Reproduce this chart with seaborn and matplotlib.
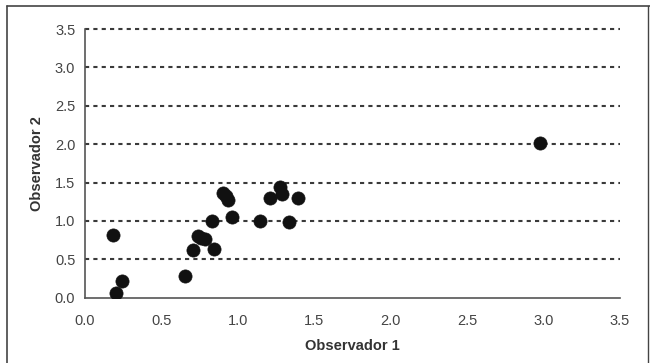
import matplotlib
matplotlib.use("Agg")
import matplotlib.pyplot as plt
import seaborn as sns
import pandas as pd
from matplotlib.lines import Line2D

obs1 = [0.185, 0.20, 0.244, 0.654, 0.704, 0.741, 0.76, 0.784, 0.843, 0.83,
        0.90, 0.92, 0.937, 0.96, 1.148, 1.209, 1.275, 1.286, 1.333, 1.394, 2.974]
obs2 = [0.82, 0.065, 0.22, 0.28, 0.62, 0.80, 0.78, 0.76, 0.63, 1.0,
        1.37, 1.32, 1.27, 1.056, 1.004, 1.296, 1.44, 1.35, 0.98, 1.296, 2.02]
ticks = [0.0, 0.5, 1.0, 1.5, 2.0, 2.5, 3.0, 3.5]
tick_labels = ["0.0", "0.5", "1.0", "1.5", "2.0", "2.5", "3.0", "3.5"]

df = pd.DataFrame({"Observador 1": obs1, "Observador 2": obs2})

sns.set_style("white")
plt.rcParams["font.family"] = ["Liberation Sans", "DejaVu Sans"]

fig = plt.figure(figsize=(6.5, 3.63), dpi=100)
ax = fig.add_axes([85 / 650, 1 - 297.7 / 363, (620 - 85) / 650, (297.7 - 29) / 363])

for t in ticks[1:]:
    ln = ax.axhline(t, color="#3a3a3a", linestyle=(0, (2.0, 2.0)), linewidth=1.5, zorder=1)
    ln.set_clip_on(False)

sns.scatterplot(data=df, x="Observador 1", y="Observador 2", ax=ax,
                color="#111111", s=90, edgecolor="#111111", linewidth=0.5, zorder=3)

ax.set_xlim(0, 3.5)
ax.set_ylim(0, 3.5)
ax.set_xticks(ticks)
ax.set_xticklabels(tick_labels)
ax.set_yticks(ticks)
ax.set_yticklabels(tick_labels)
ax.tick_params(axis="x", direction="out", length=5, width=1, color="#555555",
               labelsize=10.5, labelcolor="#444444", pad=7)
ax.tick_params(axis="y", direction="inout", length=8, width=1, color="#555555",
               labelsize=10.5, labelcolor="#444444", pad=3)
ax.set_xlabel("Observador 1", fontsize=10.5, fontweight="bold", color="#333333", labelpad=8)
ax.set_ylabel("Observador 2", fontsize=10.5, fontweight="bold", color="#333333", labelpad=8)

for s in ["top", "right"]:
    ax.spines[s].set_visible(False)
for s in ["left", "bottom"]:
    ax.spines[s].set_color("#555555")
    ax.spines[s].set_linewidth(1.2)

# outer frame
fig.add_artist(Line2D([7 / 650, 7 / 650], [0, 1 - 6 / 363], transform=fig.transFigure,
                      color="#444444", linewidth=1.2))
fig.add_artist(Line2D([7 / 650, 1], [1 - 6 / 363, 1 - 6 / 363], transform=fig.transFigure,
                      color="#444444", linewidth=1.2))
fig.add_artist(Line2D([648 / 650, 648 / 650], [0, 1 - 6 / 363], transform=fig.transFigure,
                      color="#444444", linewidth=1.0))

fig.savefig("out.png", dpi=100)
